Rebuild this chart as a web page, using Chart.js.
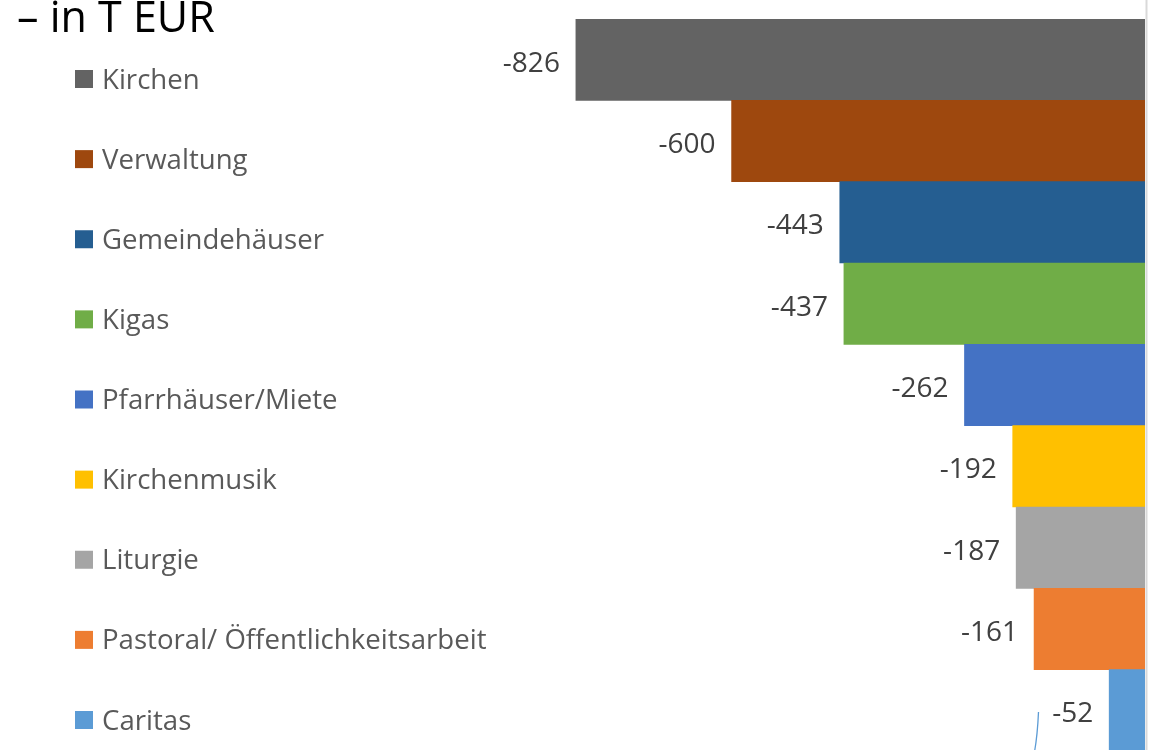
<!DOCTYPE html>
<html>
<head>
<meta charset="utf-8">
<script src="https://cdn.jsdelivr.net/npm/chart.js@4/dist/chart.umd.min.js"></script>
<style>
  html, body { margin: 0; padding: 0; background: #ffffff; overflow: hidden; }
  #wrap { position: relative; width: 1152px; height: 760px; }
</style>
</head>
<body>
<div id="wrap"><canvas id="c" width="1152" height="760"></canvas></div>
<script>
const titleText = "\u2013 in T EUR";
const categories = ["Kirchen", "Verwaltung", "Gemeindeh\u00e4user", "Kigas", "Pfarrh\u00e4user/Miete", "Kirchenmusik", "Liturgie", "Pastoral/ \u00d6ffentlichkeitsarbeit", "Caritas"];
const values = [-826, -600, -443, -437, -262, -192, -187, -161, -52];
const barColors = ["#636363", "#9E480E", "#255E91", "#70AD47", "#4472C4", "#FFC000", "#A5A5A5", "#ED7D31", "#5B9BD5"];

const FONT = "'Open Sans', 'DejaVu Sans', sans-serif";

const decorPlugin = {
  id: 'decor',
  afterDatasetsDraw(chart) {
    const ctx = chart.ctx;
    const meta = chart.getDatasetMeta(0);
    ctx.save();
    // value labels
    ctx.font = "28px " + FONT;
    ctx.fillStyle = "#404040";
    ctx.textAlign = "right";
    ctx.textBaseline = "alphabetic";
    meta.data.forEach((bar, i) => {
      ctx.fillText(String(values[i]), bar.x - 16, bar.y + 12);
    });
    // right border line
    ctx.strokeStyle = "#d9d9d9";
    ctx.lineWidth = 2;
    ctx.beginPath();
    ctx.moveTo(chart.chartArea.right + 1.5, 0);
    ctx.lineTo(chart.chartArea.right + 1.5, chart.height);
    ctx.stroke();
    // title
    ctx.font = "43px " + FONT;
    ctx.fillStyle = "#000000";
    ctx.textAlign = "left";
    ctx.fillText(titleText, 17, 32);
    // legend
    ctx.font = "27.6px " + FONT;
    categories.forEach((name, i) => {
      const y0 = 70 + i * 80.125;
      ctx.fillStyle = barColors[i];
      ctx.fillRect(75, y0, 18, 18);
      ctx.fillStyle = "#595959";
      ctx.fillText(name, 102, y0 + 18.5);
    });
    // thin blue connector fragment
    ctx.strokeStyle = "#5B9BD5";
    ctx.lineWidth = 1.3;
    ctx.beginPath();
    ctx.moveTo(1038.5, 712);
    ctx.quadraticCurveTo(1037.5, 735, 1034.5, 752);
    ctx.stroke();
    ctx.restore();
  }
};

new Chart(document.getElementById('c'), {
  type: 'bar',
  data: {
    labels: categories,
    datasets: [{
      data: values,
      backgroundColor: barColors,
      borderWidth: 0,
      barPercentage: 1.0,
      categoryPercentage: 1.0
    }]
  },
  options: {
    indexAxis: 'y',
    responsive: false,
    animation: false,
    devicePixelRatio: 1,
    layout: { padding: { left: 456, right: 7, top: 19, bottom: 9 } },
    plugins: { legend: { display: false }, tooltip: { enabled: false }, title: { display: false } },
    scales: {
      x: { display: false, min: -1000, max: 0 },
      y: { display: false }
    }
  },
  plugins: [decorPlugin]
});
</script>
</body>
</html>
